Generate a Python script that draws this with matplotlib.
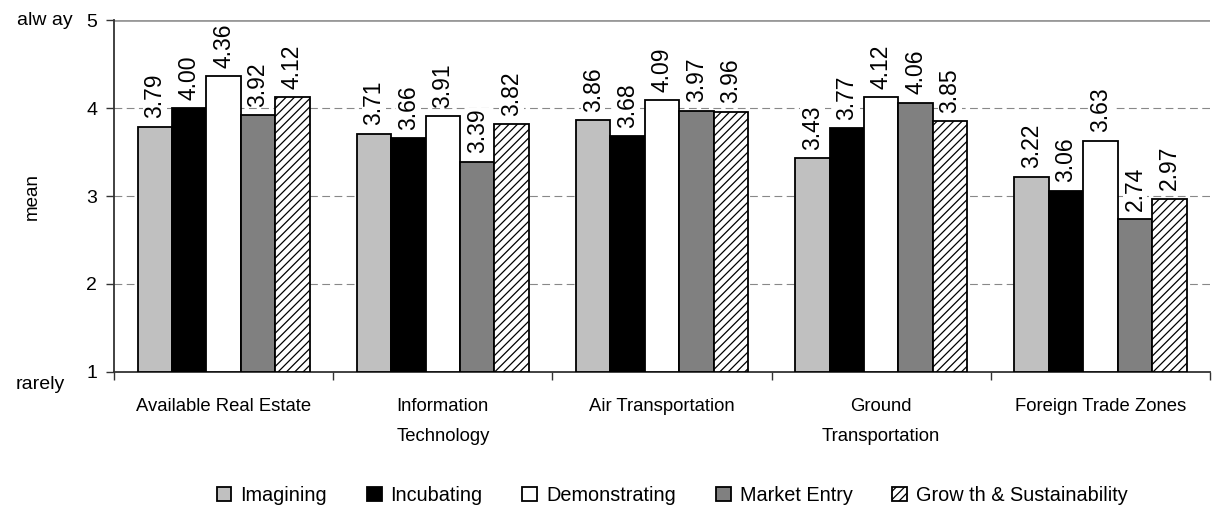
import numpy as np
import matplotlib
matplotlib.use("Agg")
import matplotlib.pyplot as plt

plt.rcParams['font.family'] = ['Liberation Sans', 'DejaVu Sans']
plt.rcParams['hatch.linewidth'] = 0.9
plt.rcParams['hatch.color'] = '#555555'

categories = ["Available Real Estate", "Information\nTechnology", "Air Transportation",
              "Ground\nTransportation", "Foreign Trade Zones"]
series = ["Imagining", "Incubating", "Demonstrating", "Market Entry", "Grow th & Sustainability"]
imagining = [3.79, 3.71, 3.86, 3.43, 3.22]
incubating = [4.00, 3.66, 3.68, 3.77, 3.06]
demonstrating = [4.36, 3.91, 4.09, 4.12, 3.63]
market_entry = [3.92, 3.39, 3.97, 4.06, 2.74]
growth = [4.12, 3.82, 3.96, 3.85, 2.97]

values = [imagining, incubating, demonstrating, market_entry, growth]
colors = ["#c0c0c0", "#000000", "#ffffff", "#808080", "#ffffff"]
hatches = [None, None, None, None, "////"]

fig = plt.figure(figsize=(12.31, 5.14), dpi=100)
ax = fig.add_axes([0.0926, 0.2763, 0.8904, 0.6847])

x = np.arange(len(categories))
w = 0.157
for i, vals in enumerate(values):
    pos = x + (i - 2) * w
    ax.bar(pos, np.array(vals) - 1, w, bottom=1, color=colors[i],
           edgecolor="black", linewidth=1.3, hatch=hatches[i], label=series[i],
           zorder=3)
    for p, v in zip(pos, vals):
        ax.annotate("%.2f" % v, (p, v), xytext=(0, 6), textcoords="offset points",
                    rotation=90, ha="center", va="bottom", fontsize=16.5, zorder=5,
                    bbox=dict(fc="white", ec="none", pad=0.5))

ax.set_ylim(1, 5)
ax.set_xlim(-0.5, 4.5)
ax.set_yticks([1, 2, 3, 4, 5])
ax.set_yticklabels(["1", "2", "3", "4", "5"], fontsize=14)
ax.set_xticks(x)
ax.set_xticklabels(categories, fontsize=13.3, linespacing=1.95)
ax.set_xticks(np.arange(-0.5, 5, 1), minor=True)
ax.tick_params(axis="x", which="major", length=0, pad=19)
ax.tick_params(axis="x", which="minor", length=6, width=1, color="#333333")
ax.tick_params(axis="y", length=6, width=1, direction="out", pad=6, color="#333333")
for yv in [2, 3, 4]:
    ax.axhline(yv, color="#888888", linestyle=(0, (7, 4)), linewidth=0.8, zorder=1)
ax.axhline(5, color="#999999", linewidth=2, zorder=1)
ax.spines["top"].set_visible(False)
ax.spines["right"].set_visible(False)
ax.spines["left"].set_linewidth(1.3)
ax.spines["bottom"].set_linewidth(1.3)
ax.spines["left"].set_color("#333333")
ax.spines["bottom"].set_color("#333333")

ax.set_ylabel("mean", fontsize=13.5, labelpad=33)
ax.text(-0.038, 5, "alw ay", transform=ax.get_yaxis_transform(), ha="right",
        va="center", fontsize=14)
ax.text(-0.045, 0.86, "rarely", transform=ax.get_yaxis_transform(), ha="right",
        va="center", fontsize=14)

handles, labels = ax.get_legend_handles_labels()
fig.legend(handles, labels, loc="center", bbox_to_anchor=(0.546, 0.036),
           ncol=5, frameon=False, fontsize=14.3, handlelength=0.75, handleheight=0.75,
           handletextpad=0.45, columnspacing=2.0)

fig.savefig("out.png", dpi=100)
